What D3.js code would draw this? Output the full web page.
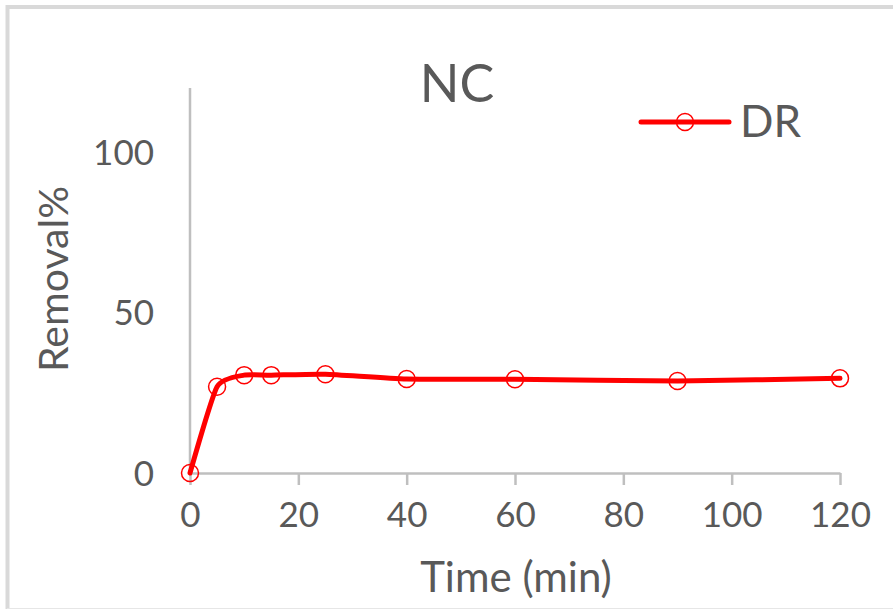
<!DOCTYPE html>
<html>
<head>
<meta charset="utf-8">
<script src="https://cdn.jsdelivr.net/npm/d3@7"></script>
<style>
html,body{margin:0;padding:0;background:#fff;}
svg{display:block;}
text{font-family:Lato,"Open Sans",sans-serif;fill:#595959;}
</style>
</head>
<body>
<svg id="chart" width="893" height="610"></svg>
<script>
const times = [0, 5, 10, 15, 25, 40, 60, 90, 120];
const removal = [0, 26.9, 30.5, 30.5, 30.8, 29.3, 29.2, 28.7, 29.5];
const xTicks = [0, 20, 40, 60, 80, 100, 120];
const yTicks = [0, 50, 100];
const seriesName = "DR";
const chartTitle = "NC";
const xTitle = "Time (min)";
const yTitle = "Removal%";

const svg = d3.select("#chart");
const red = "#ff0000", axisCol = "#bfbfbf";

// outer frame
svg.append("path").attr("d","M7.5,609 L7.5,7 L893,7").attr("fill","none").attr("stroke","#d9d9d9").attr("stroke-width",4);
svg.append("line").attr("x1",7).attr("x2",893).attr("y1",608.5).attr("y2",608.5).attr("stroke","#e6e6e6").attr("stroke-width",1);

const x = d3.scaleLinear().domain([0,120]).range([190,840]);
const y = d3.scaleLinear().domain([0,120]).range([473,88]);

// y axis line
svg.append("line").attr("x1",x(0)).attr("x2",x(0)).attr("y1",y(120)).attr("y2",y(0))
  .attr("stroke",axisCol).attr("stroke-width",2.5);
// x axis
const xAxis = d3.axisBottom(x).tickValues(xTicks).tickSize(12).tickSizeOuter(0).tickPadding(10);
const gx = svg.append("g").attr("transform",`translate(0,${y(0)})`).call(xAxis);
gx.select(".domain").attr("stroke",axisCol).attr("stroke-width",2.5);
gx.selectAll(".tick line").attr("stroke",axisCol).attr("stroke-width",2.5);
gx.selectAll(".tick text").attr("font-size",35).attr("font-family","Lato").attr("fill","#404040").attr("dy","0.9em");

// y tick labels
svg.selectAll(".ylab").data(yTicks).enter().append("text")
  .attr("x",154).attr("y",d=>y(d)).attr("dy","0.36em")
  .attr("text-anchor","end").attr("font-size",35).text(d=>d);

// titles
svg.append("text").attr("x",457).attr("y",102).attr("text-anchor","middle").attr("font-size",52).text(chartTitle);
svg.append("text").attr("x",516).attr("y",592).attr("text-anchor","middle").attr("font-size",42).text(xTitle);
svg.append("text").attr("transform","translate(68,279) rotate(-90)").attr("text-anchor","middle").attr("font-size",41).text(yTitle);

// series
const pts = times.map((t,i)=>[t,removal[i]]);
const line = d3.line().x(d=>x(d[0])).y(d=>y(d[1])).curve(d3.curveCardinal.tension(0.45));
svg.append("path").datum(pts).attr("d",line).attr("fill","none").attr("stroke",red)
  .attr("stroke-width",5).attr("stroke-linejoin","round").attr("stroke-linecap","round");
svg.selectAll(".pt").data(pts).enter().append("circle")
  .attr("cx",d=>x(d[0])).attr("cy",d=>y(d[1])).attr("r",8.5)
  .attr("fill","none").attr("stroke",red).attr("stroke-width",1.5);

// legend
const lg = svg.append("g");
lg.append("line").attr("x1",641).attr("x2",729).attr("y1",122).attr("y2",122).attr("stroke",red).attr("stroke-width",5).attr("stroke-linecap","round");
lg.append("circle").attr("cx",685).attr("cy",122).attr("r",8.5).attr("fill","none").attr("stroke",red).attr("stroke-width",1.5);
lg.append("text").attr("x",740).attr("y",137).attr("font-size",44).text(seriesName);
</script>
</body>
</html>
